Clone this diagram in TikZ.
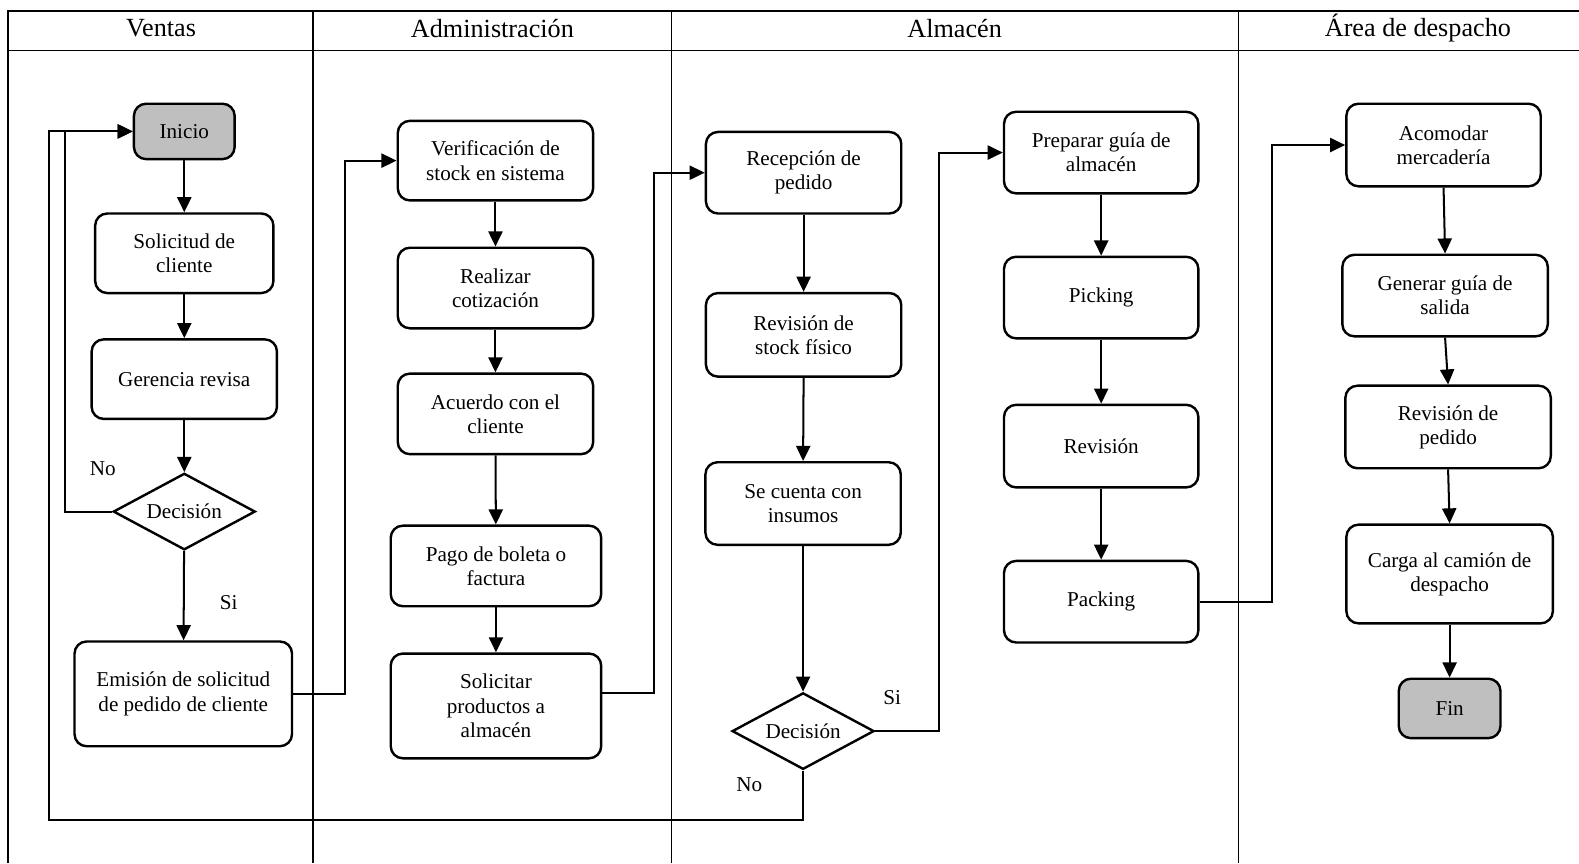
\documentclass[tikz,border=0pt]{standalone}
\usepackage{fontspec}
\setmainfont{Liberation Serif}
\usetikzlibrary{shapes.geometric,arrows.meta}
\begin{document}
\begin{tikzpicture}[x=0.5pt,y=-0.5pt,
  box/.style={draw,rounded corners=6pt,line width=1.2pt,align=center,inner sep=2pt,
    font=\fontsize{10.5}{12}\selectfont,fill=white},
  term/.style={box,fill=gray!50},
  decision/.style={draw,diamond,aspect=1.85,line width=1.2pt,inner sep=0pt,fill=white,
    minimum width=70.5pt,minimum height=38pt,font=\fontsize{10.5}{12}\selectfont},
  conn/.style={line width=1pt},
  arr/.style={conn,-{Triangle[length=7.5pt,width=7pt]}},
  lane/.style={line width=0.8pt},
  lanehead/.style={font=\fontsize{13}{15}\selectfont},
  lbl/.style={font=\fontsize{10.5}{12}\selectfont}
]
\useasboundingbox (0,0) rectangle (1568,857);

% swimlane grid
\draw[lane] (8,857) -- (8,11) -- (1568,11);
\draw[lane] (8,50) -- (1568,50);
\draw[lane] (311,11) -- (311,857);
\draw[lane] (667,11) -- (667,857);
\draw[lane] (1230,11) -- (1230,857);

\node[lanehead] (hv)  at (160,28)  {Ventas};
\node[lanehead] (ha)  at (489,28)  {Administración};
\node[lanehead] (hal) at (948,28)  {Almacén};
\node[lanehead] (hd)  at (1408,28) {Área de despacho};

% Ventas
\node[term,minimum width=50pt,minimum height=27.5pt] (inicio) at (183,130.5) {Inicio};
\node[box,minimum width=88.5pt,minimum height=39.5pt] (sol) at (183,251.5) {Solicitud de\\cliente};
\node[box,minimum width=92pt,minimum height=39.5pt] (ger) at (183,376.5) {Gerencia revisa};
\node[decision] (dec1) at (183,508) {Decisión};
\node[box,minimum width=108pt,minimum height=52pt] (emi) at (182,689) {Emisión de solicitud\\de pedido de cliente};

% Administración
\node[box,minimum width=97pt,minimum height=39.5pt] (verif) at (492,159.5) {Verificación de\\stock en sistema};
\node[box,minimum width=97pt,minimum height=40pt] (real) at (492,286) {Realizar\\cotización};
\node[box,minimum width=97pt,minimum height=40pt] (acu) at (492,411) {Acuerdo con el\\cliente};
\node[box,minimum width=104.5pt,minimum height=40pt] (pago) at (492.5,562) {Pago de boleta o\\factura};
\node[box,minimum width=104.5pt,minimum height=52pt] (soli) at (492.5,701) {Solicitar\\productos a\\almacén};

% Almacén
\node[box,minimum width=97pt,minimum height=40.5pt] (recep) at (798,171.5) {Recepción de\\pedido};
\node[box,minimum width=97pt,minimum height=41.5pt] (revs) at (798,332.5) {Revisión de\\stock físico};
\node[box,minimum width=97pt,minimum height=41pt] (secu) at (797.5,500) {Se cuenta con\\insumos};
\node[decision] (dec2) at (797.5,726) {Decisión};

\node[box,minimum width=96.5pt,minimum height=40.5pt] (prep) at (1093.5,151.5) {Preparar guía de\\almacén};
\node[box,minimum width=96.5pt,minimum height=40.5pt] (pick) at (1093.5,295.5) {Picking};
\node[box,minimum width=96.5pt,minimum height=41pt] (revi) at (1093.5,443) {Revisión};
\node[box,minimum width=96.5pt,minimum height=40.5pt] (pack) at (1093.5,597.5) {Packing};

% Área de despacho
\node[box,minimum width=96.5pt,minimum height=41pt] (acom) at (1433.5,144) {Acomodar\\mercadería};
\node[box,minimum width=102pt,minimum height=40.5pt] (gen) at (1435,293.5) {Generar guía de\\salida};
\node[box,minimum width=102pt,minimum height=41pt] (revp) at (1438,424) {Revisión de\\pedido};
\node[box,minimum width=102.5pt,minimum height=49pt] (carga) at (1439.5,570) {Carga al camión de\\despacho};
\node[term,minimum width=50.5pt,minimum height=29.5pt] (fin) at (1439.5,703.5) {Fin};

% branch labels
\node[lbl] (no1) at (102,465) {No};
\node[lbl] (si1) at (227,598) {Si};
\node[lbl] (si2) at (886,693) {Si};
\node[lbl] (no2) at (744,779) {No};

% bend columns of the long connectors
\coordinate (jA) at (65,0);
\coordinate (jB) at (49,814);
\coordinate (j1) at (343,0);
\coordinate (j2) at (649,0);
\coordinate (j3) at (932,0);
\coordinate (j4) at (1263,0);

% vertical flow
\draw[arr] (inicio) -- (sol);
\draw[arr] (sol) -- (ger);
\draw[arr] (ger) -- (dec1);
\draw[arr] (dec1) -- (emi);

\draw[arr] (verif) -- (real);
\draw[arr] (real) -- (acu);
\draw[arr] (acu) -- (pago);
\draw[arr] (pago) -- (soli);

\draw[arr] (recep) -- (revs);
\draw[arr] (revs.south) -- (secu.north);
\draw[arr] (secu) -- (dec2);

\draw[arr] (prep) -- (pick);
\draw[arr] (pick) -- (revi);
\draw[arr] (revi) -- (pack);

\draw[arr] (acom.south) -- (gen.north);
\draw[arr] (gen.south) -- (revp.north);
\draw[arr] (revp.south) -- (carga.north);
\draw[arr] (carga.south) -- (fin.north);

% loops back to the start
\draw[arr] (dec1.west) -- (dec1.west -| jA) |- (inicio.west);
\draw[arr] (dec2.south) |- (jB) |- (inicio.west);

% hand-offs between lanes
\draw[arr] (emi.east) -- (emi.east -| j1) |- (verif.west);
\draw[arr] ([yshift=6.5pt]soli.east) -- ([yshift=6.5pt]soli.east -| j2) |- (recep.west);
\draw[arr] (dec2.east) -- (dec2.east -| j3) |- (prep.west);
\draw[arr] (pack.east) -- (pack.east -| j4) |- (acom.west);
\end{tikzpicture}
\end{document}
